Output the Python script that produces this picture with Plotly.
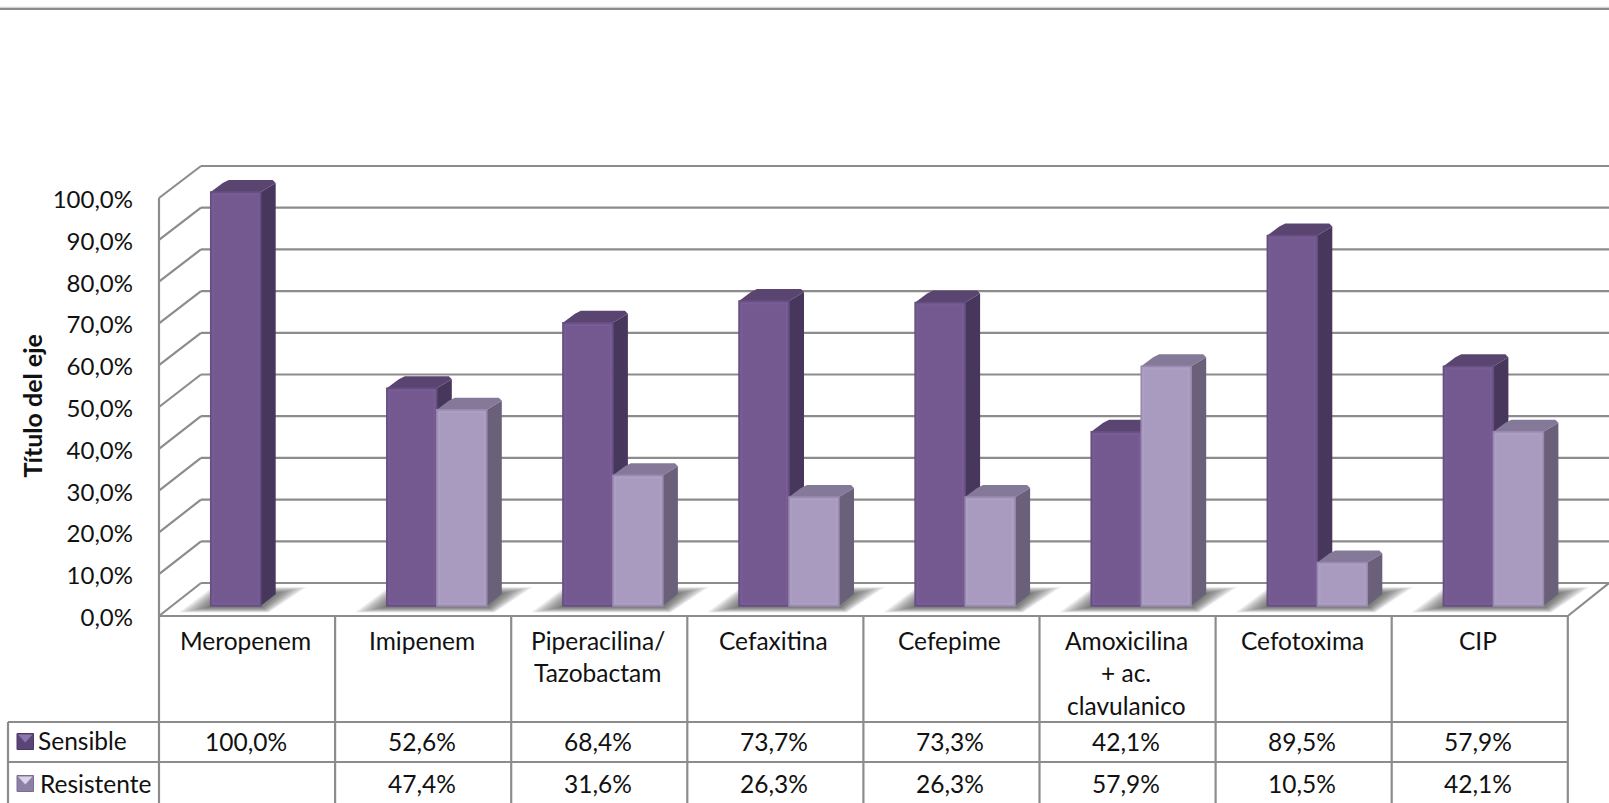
import plotly.graph_objects as go

# --- data ---------------------------------------------------------------
categories = ["Meropenem", "Imipenem", "Piperacilina/<br>Tazobactam", "Cefaxitina", "Cefepime",
              "Amoxicilina<br>+ ac.<br>clavulanico", "Cefotoxima", "CIP"]
sensible = [100.0, 52.6, 68.4, 73.7, 73.3, 42.1, 89.5, 57.9]
resistente = [None, 47.4, 31.6, 26.3, 26.3, 57.9, 10.5, 42.1]
y_ticks = [0, 10, 20, 30, 40, 50, 60, 70, 80, 90, 100]
series_names = ["Sensible", "Resistente"]

# --- canvas geometry (pixels) -------------------------------------------
W, H = 1609, 803
FONT = "Lato"
TEXT = "#111111"
GRID = "#8c8c8c"
CAT_W = 176.1            # width of one category on the floor front edge
AX_X = 159               # front left corner of the chart box
FRONT_Y0 = 616           # 0 % on the front wall edge
BACK_Y0 = 583            # 0 % on the back wall
BASE_Y0 = 606            # 0 % on the plane of the bar fronts
PX_FRONT, PX_BACK, PX_BAR = 4.18, 4.17, 4.14   # pixels per percentage point
DEPTH_X, DEPTH_Y = 42, 33
BAR_X0 = 51.7            # offset of the first bar inside its category
BAR_W = 50
SIDE_X, SIDE_Y = 15, 12
RIGHT = AX_X + 8 * CAT_W
ROW_Y = [722, 762]
LABEL_DROP = 1.5         # nudges the tick labels onto the wall ticks
CELL_SHIFT = -1.5        # table text sits slightly left of the cell centre

dx = SIDE_X / CAT_W      # bar depth in axis units
dy = SIDE_Y / PX_BAR
bw = BAR_W / CAT_W
b0 = BAR_X0 / CAT_W


def px(x):
    return x / W


def py(y):
    return 1 - y / H


def to_x(p):
    return (p - AX_X) / CAT_W


def to_y(p):
    return (BASE_Y0 - p) / PX_BAR


def line(x0, y0, x1, y1, color=GRID, width=2.2):
    return dict(type="line", xref="paper", yref="paper", layer="below",
                x0=px(x0), y0=py(y0), x1=px(x1), y1=py(y1),
                line=dict(color=color, width=width))


def poly(points, color):
    path = "M" + " L".join(f"{a:.4f},{b:.4f}" for a, b in points) + " Z"
    return dict(type="path", xref="x", yref="y", layer="below", path=path,
                fillcolor=color, line=dict(width=0))


def comma(v):
    return f"{v:.1f}%".replace(".", ",")


shapes = []

# page rule along the top
shapes.append(line(0, 7.5, W, 7.5, "#d2d2d2", 1.5))
shapes.append(line(0, 9, W, 9, "#8b8b8b", 2))

# back wall gridlines and the left wall returning to the front edge
for v in y_ticks:
    yb = BACK_Y0 - PX_BACK * v
    yf = FRONT_Y0 - PX_FRONT * v
    shapes.append(line(AX_X + DEPTH_X, yb, W, yb))
    shapes.append(line(AX_X, yf, AX_X + DEPTH_X, yb))
shapes.append(line(AX_X, FRONT_Y0 - PX_FRONT * 100, AX_X, FRONT_Y0))
shapes.append(line(RIGHT, FRONT_Y0, W, BACK_Y0))

# data table grid below the floor
shapes.append(line(AX_X, FRONT_Y0, RIGHT, FRONT_Y0))
for i in range(9):
    x = AX_X + i * CAT_W
    shapes.append(line(x, FRONT_Y0, x, H))
for y in ROW_Y:
    shapes.append(line(8, y, RIGHT, y))
shapes.append(line(8, ROW_Y[0], 8, H))

# soft floor shadow under each group of bars, built from nested translucent layers
LAYERS = 14
for i in range(len(categories)):
    n_bars = 1 if resistente[i] is None else 2
    x0 = to_x(AX_X + i * CAT_W + BAR_X0)
    x1 = x0 + n_bars * bw
    for k in range(LAYERS):
        t = k / (LAYERS - 1)
        outer = [(x0 - 32 / CAT_W, -6.5 / PX_BAR), (x1 + 8 / CAT_W, -6.5 / PX_BAR),
                 (x1 + 46 / CAT_W, 19 / PX_BAR), (x0 + 2 / CAT_W, 19 / PX_BAR)]
        inner = [(x0 - 3 / CAT_W, -1.5 / PX_BAR), (x1 + 2 / CAT_W, -1.5 / PX_BAR),
                 (x1 + 17 / CAT_W, 13 / PX_BAR), (x0 + 12 / CAT_W, 13 / PX_BAR)]
        pts = [(o[0] + (n[0] - o[0]) * t, o[1] + (n[1] - o[1]) * t) for o, n in zip(outer, inner)]
        shapes.append(poly(pts, "rgba(40,40,40,0.062)"))


def box_faces(x_left, value, top_color, side_color):
    """Top and side faces of one bar, in axis units, with softened back corners."""
    xr = x_left + bw
    cx, cy = 3 / CAT_W, 3 / PX_BAR
    top = [(x_left, value), (xr, value), (xr + dx, value + dy - cy), (xr + dx - cx, value + dy),
           (x_left + dx + cx, value + dy), (x_left + dx - cx, value + dy - cy)]
    side = [(xr, 0), (xr + dx, dy), (xr + dx, value + dy - cy), (xr, value)]
    return [poly(top, top_color), poly(side, side_color)]


def bevel(x_left, value, color):
    """Thin highlight just inside the front face of a bar."""
    ix, iy = 2.5 / CAT_W, 2.5 / PX_BAR
    return dict(type="rect", xref="x", yref="y", layer="above",
                x0=x_left + ix, x1=x_left + bw - ix, y0=iy, y1=value - iy,
                fillcolor="rgba(0,0,0,0)", line=dict(color=color, width=1.5))


x_sens = [i + b0 for i in range(len(categories))]
x_res = [i + b0 + bw for i in range(len(categories))]

for x, v in zip(x_sens, sensible):
    shapes += box_faces(x, v, "#5a4571", "#48375c")
    shapes.append(bevel(x, v, "rgba(130,104,162,0.35)"))
for x, v in zip(x_res, resistente):
    if v is not None:
        shapes += box_faces(x, v, "#85799a", "#6b6079")
        shapes.append(bevel(x, v, "rgba(184,170,205,0.35)"))

# table legend swatches: small bevelled squares
SWATCH = [("#5a4676", "#8e75b0", "#4a3863"), ("#8d80a5", "#dcd2ea", "#7a6e90")]
for (base, light, dark), yc in zip(SWATCH, [741.5, 783.5]):
    x0, x1 = 17, 33.5
    y0, y1 = yc - 8, yc + 8
    shapes.append(dict(type="rect", xref="paper", yref="paper", layer="below",
                       x0=px(x0), x1=px(x1), y0=py(y0), y1=py(y1),
                       fillcolor=base, line=dict(width=1, color=dark)))
    tri = f"M{px(x0 + 1):.5f},{py(y0 + 1):.5f} L{px(x1 - 1):.5f},{py(y0 + 1):.5f} L{px((x0 + x1) / 2):.5f},{py(yc + 1):.5f} Z"
    shapes.append(dict(type="path", xref="paper", yref="paper", layer="below", path=tri,
                       fillcolor=light, line=dict(width=0)))

# --- text ---------------------------------------------------------------
annotations = []


def label(x, y, text, size=24.5, anchor="center", **kw):
    annotations.append(dict(x=px(x), y=py(y), xref="paper", yref="paper", text=text, showarrow=False,
                            xanchor=anchor, yanchor="middle", align="center",
                            font=dict(family=FONT, size=size, color=TEXT), **kw))


LINE_STEP = 32.5
for i, c in enumerate(categories):
    xc = AX_X + (i + 0.5) * CAT_W + CELL_SHIFT
    for j, part in enumerate(c.split("<br>")):
        label(xc, 640 + j * LINE_STEP, part)
    label(xc, 741, comma(sensible[i]))
    if resistente[i] is not None:
        label(xc, 783, comma(resistente[i]))

label(36, 740.5, series_names[0], anchor="left")
label(37.5, 783, series_names[1], anchor="left")
label(31.5, 406, "<b>Título del eje</b>", size=25, textangle=-90)

# --- traces -------------------------------------------------------------
fig = go.Figure()
fig.add_bar(x=x_sens, y=sensible, name=series_names[0], width=bw, offset=0,
            marker=dict(color="#73598f", line=dict(color="#664d82", width=1.5)))
fig.add_bar(x=x_res, y=resistente, name=series_names[1], width=bw, offset=0,
            marker=dict(color="#a99abf", line=dict(color="#988aaf", width=1.5)))
# carries the tick labels of the front wall scale
fig.add_scatter(x=[0], y=[0], yaxis="y2", mode="markers", marker=dict(opacity=0), hoverinfo="skip")

fig.update_layout(
    width=W, height=H, margin=dict(l=0, r=0, t=0, b=0), autosize=False,
    paper_bgcolor="white", plot_bgcolor="rgba(0,0,0,0)",
    showlegend=False, barmode="overlay",
    font=dict(family=FONT, color=TEXT),
    shapes=shapes, annotations=annotations,
    xaxis=dict(range=[to_x(0), to_x(W)], domain=[0, 1], visible=False, fixedrange=True),
    yaxis=dict(range=[to_y(H), to_y(0)], domain=[0, 1], visible=False, fixedrange=True),
    yaxis2=dict(range=[(FRONT_Y0 + LABEL_DROP - H) / PX_FRONT, (FRONT_Y0 + LABEL_DROP) / PX_FRONT],
                overlaying="y", anchor="free", position=AX_X / W, side="left",
                showgrid=False, zeroline=False, showline=False,
                tickvals=y_ticks, ticktext=[comma(v) for v in y_ticks], ticks="",
                ticklabelstandoff=26, tickfont=dict(family=FONT, size=24, color=TEXT), fixedrange=True),
)

fig.write_html("out.html", config=dict(displayModeBar=False))
